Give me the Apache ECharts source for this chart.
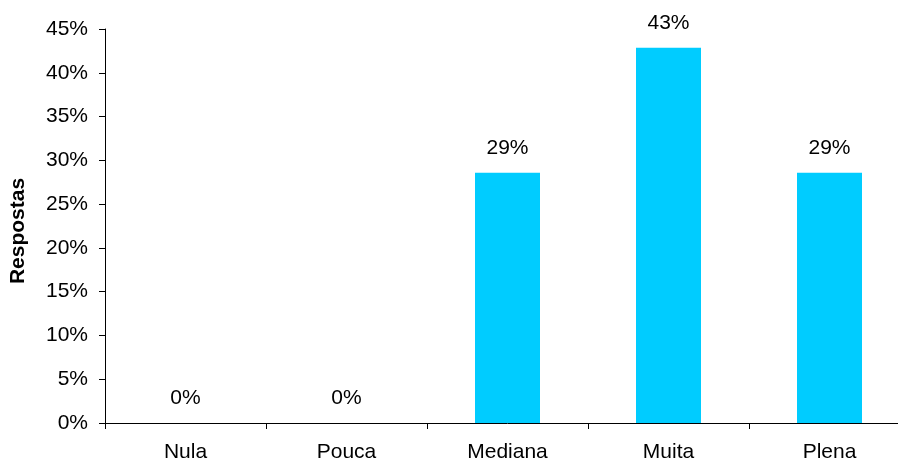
<!DOCTYPE html>
<html><head><meta charset="utf-8">
<script src="https://cdn.jsdelivr.net/npm/echarts@6/dist/echarts.min.js"></script>
<style>html,body{margin:0;padding:0;background:#fff;overflow:hidden;width:898px;height:463px}#c{width:920px;height:463px}</style>
</head><body><div id="c"></div>
<script>
var categories = ["Nula", "Pouca", "Mediana", "Muita", "Plena"];
var respostas = [0, 0, 28.57, 42.86, 28.57];
var yTicks = [0, 5, 10, 15, 20, 25, 30, 35, 40, 45];

var FONT = '"Liberation Sans", Arial, sans-serif';
var chart = echarts.init(document.getElementById('c'));
chart.setOption({
  animation: false,
  backgroundColor: '#fff',
  grid: { left: 105, top: 29, width: 805, height: 395 },
  xAxis: {
    type: 'category',
    data: categories,
    axisLine: { lineStyle: { color: '#000', width: 1 } },
    axisTick: { show: true, alignWithLabel: false, length: 6, lineStyle: { color: '#000' } },
    axisLabel: { color: '#000', fontFamily: FONT, fontSize: 21, margin: 19 }
  },
  yAxis: {
    type: 'value',
    min: yTicks[0], max: yTicks[yTicks.length - 1], interval: 5,
    name: 'Respostas', nameLocation: 'middle', nameGap: 76,
    nameTextStyle: { color: '#000', fontFamily: FONT, fontSize: 21, fontWeight: 'bold', padding: [0, 10, 0, 0] },
    axisLine: { show: true, lineStyle: { color: '#000', width: 1 } },
    axisTick: { show: true, length: 6, lineStyle: { color: '#000' } },
    splitLine: { show: false },
    axisLabel: { color: '#000', fontFamily: FONT, fontSize: 21, margin: 17, formatter: '{value}%' }
  },
  series: [{
    type: 'bar',
    data: respostas,
    barWidth: 65,
    itemStyle: { color: '#00CCFF' },
    label: {
      show: true, position: 'top', distance: 14,
      color: '#000', fontFamily: FONT, fontSize: 21,
      formatter: function (p) { return Math.round(p.value) + '%'; }
    }
  }]
});
</script></body></html>
